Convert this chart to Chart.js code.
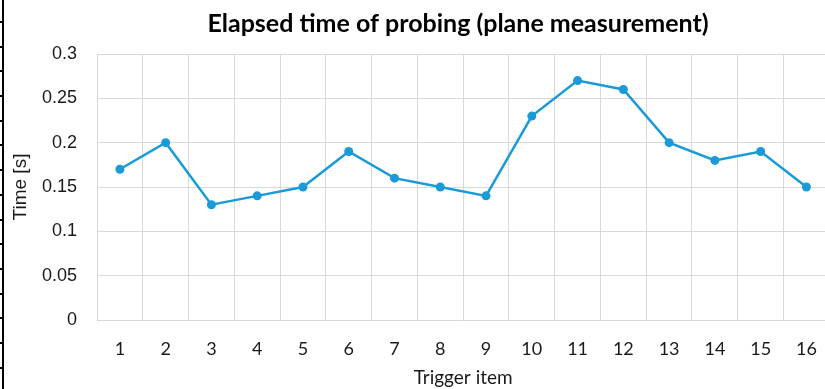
<!DOCTYPE html>
<html>
<head>
<meta charset="utf-8">
<script src="https://cdn.jsdelivr.net/npm/chart.js@4.4.1/dist/chart.umd.min.js"></script>
<style>
  html, body { margin: 0; padding: 0; background: #fff; overflow: hidden; }
  #wrap { position: relative; width: 835px; height: 389px; }
  #edge { position: absolute; left: 2px; top: 0; width: 2px; height: 389px; background: #000; }
  #edgeTicks { position: absolute; left: 0; top: 0; width: 3px; height: 389px;
    background: repeating-linear-gradient(to bottom, transparent 0px, transparent 21px, #000 21px, #000 23px, transparent 23px, transparent 24.7px); }
</style>
</head>
<body>
<div id="wrap">
  <canvas id="c" width="835" height="389"></canvas>
  <div id="edge"></div>
  <div id="edgeTicks"></div>
</div>
<script>
const titleText = 'Elapsed time of probing (plane measurement)';
const categories = ['1','2','3','4','5','6','7','8','9','10','11','12','13','14','15','16'];
const timeValues = [0.17, 0.20, 0.13, 0.14, 0.15, 0.19, 0.16, 0.15, 0.14, 0.23, 0.27, 0.26, 0.20, 0.18, 0.19, 0.15];
const yTicks = [0, 0.05, 0.1, 0.15, 0.2, 0.25, 0.3];
const yTitle = 'Time [s]';
const xTitle = 'Trigger item';

const lineColor = '#1b9ad8';
const gridColor = '#d9d9d9';
const sansFamily = "'Liberation Sans', Arial, sans-serif";

const titlePlugin = {
  id: 'offsetTitle',
  afterDraw(chart) {
    const ctx = chart.ctx;
    ctx.save();
    ctx.font = "bold 25px Lato";
    ctx.fillStyle = '#000';
    ctx.textAlign = 'center';
    ctx.textBaseline = 'alphabetic';
    ctx.fillText(titleText, 458, 32);
    ctx.restore();
  }
};

new Chart(document.getElementById('c'), {
  type: 'line',
  data: {
    labels: categories,
    datasets: [{
      data: timeValues,
      borderColor: lineColor,
      backgroundColor: lineColor,
      borderWidth: 2.5,
      pointRadius: 4.5,
      pointHoverRadius: 4.5,
      pointBackgroundColor: lineColor,
      pointBorderWidth: 0,
      tension: 0,
      fill: false
    }]
  },
  options: {
    responsive: false,
    animation: false,
    layout: { padding: { top: 54, right: 2, left: 0, bottom: 0 } },
    plugins: {
      legend: { display: false },
      title: { display: false },
      tooltip: { enabled: false }
    },
    scales: {
      x: {
        type: 'category',
        offset: true,
        grid: { offset: true, color: gridColor, lineWidth: 1, drawTicks: false },
        border: { color: gridColor, width: 1 },
        ticks: { color: '#1a1a1a', font: { family: 'Lato', size: 18 }, padding: 18, maxRotation: 0, autoSkip: false },
        title: { display: true, text: xTitle, color: '#1a1a1a', font: { family: 'Lato', size: 19 }, padding: { top: 0, bottom: 0 } },
        afterFit(scale) { scale.height = 69; }
      },
      y: {
        min: 0,
        max: 0.3,
        afterBuildTicks(scale) { scale.ticks = yTicks.map(v => ({ value: v })); },
        grid: { color: gridColor, lineWidth: 1, drawTicks: false },
        border: { color: gridColor, width: 1 },
        ticks: {
          color: '#1a1a1a',
          font: { family: sansFamily, size: 18 },
          padding: 20,
          callback: v => String(+Number(v).toFixed(2))
        },
        title: { display: true, text: yTitle, color: '#1a1a1a', font: { family: sansFamily, size: 19 }, padding: { top: 9, bottom: 0 } },
        afterFit(scale) { scale.width = 97; }
      }
    }
  },
  plugins: [titlePlugin]
});
</script>
</body>
</html>
